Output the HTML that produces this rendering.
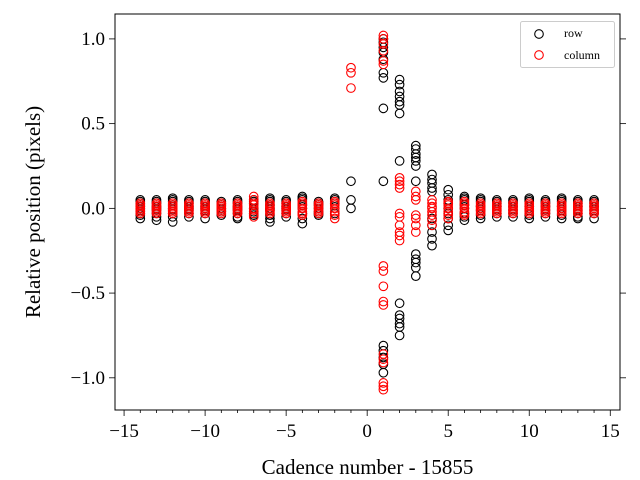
<!DOCTYPE html>
<html><head><meta charset="utf-8"><style>
html,body{margin:0;padding:0;background:#fff}
svg{display:block;font-family:"Liberation Serif",serif}
</style></head><body>
<svg id="chart" width="640" height="480">
<g id="plot"></g>
</svg>
<script>
const cadences=[-14,-13,-12,-11,-10,-9,-8,-7,-6,-5,-4,-3,-2,-1,1,2,3,4,5,6,7,8,9,10,11,12,13,14];
const rowValues=[
[0.05,0.04,0.03,0.02,0.01,0,-0.01,-0.02,-0.03,-0.04,-0.06],[0.05,0.04,0.03,0.01,0,-0.01,-0.03,-0.05,-0.07],[0.06,0.05,0.04,0.02,0,-0.01,-0.03,-0.05,-0.08],
[0.05,0.04,0.03,0.01,0,-0.01,-0.03,-0.05],[0.05,0.04,0.03,0.01,0,-0.01,-0.03,-0.06],[0.04,0.03,0.02,0,-0.01,-0.02,-0.04],
[0.05,0.04,0.03,0.01,0,-0.01,-0.03,-0.05,-0.06],[0.05,0.04,0.03,0,-0.02,-0.03,-0.04],[0.06,0.05,0.04,0.02,0,-0.01,-0.04,-0.06,-0.08],
[0.05,0.04,0.03,0.01,0,-0.01,-0.03,-0.05],[0.07,0.06,0.05,0.02,0,-0.03,-0.06,-0.09],[0.04,0.03,0.02,0,-0.02,-0.03,-0.04],
[0.06,0.05,0.03,-0.03],[0.16,0.05,0.0],
[1.0,0.98,0.95,0.92,0.88,0.8,0.77,0.59,0.16,-0.81,-0.84,-0.88,-0.92,-0.97],
[0.76,0.73,0.69,0.66,0.63,0.61,0.56,0.28,-0.56,-0.63,-0.65,-0.68,-0.7,-0.75],
[0.37,0.35,0.32,0.3,0.28,0.25,0.16,-0.27,-0.3,-0.32,-0.35,-0.4],
[0.2,0.17,0.15,0.12,0.1,-0.06,-0.1,-0.14,-0.18,-0.22],
[0.11,0.08,0.05,0.03,0,-0.03,-0.06,-0.1,-0.13],
[0.07,0.06,0.05,0.02,0,-0.03,-0.05,-0.07],[0.06,0.05,0.04,0.01,-0.01,-0.04,-0.06],[0.05,0.04,0.03,0.01,-0.01,-0.03,-0.05],
[0.05,0.04,0.03,0.01,-0.01,-0.03,-0.05],[0.06,0.05,0.04,0.01,-0.01,-0.04,-0.06],[0.05,0.04,0.03,0.01,-0.01,-0.03,-0.05],
[0.06,0.05,0.04,0.01,-0.01,-0.04,-0.06],[0.05,0.04,0.03,0.01,-0.01,-0.03,-0.05,-0.06],[0.05,0.04,0.03,0.01,-0.01,-0.03,-0.06]
];
const colValues=[
[0.03,0.02,0.01,0,-0.01,-0.02,-0.03],[0.03,0.02,0.01,0,-0.01,-0.02,-0.03],[0.03,0.02,0.01,0,-0.01,-0.02,-0.03],[0.03,0.02,0.01,0,-0.01,-0.02,-0.03],
[0.03,0.02,0.01,0,-0.01,-0.02,-0.03],[0.03,0.02,0.01,0,-0.01,-0.02,-0.03],[0.03,0.02,0.01,0,-0.01,-0.02,-0.03],[0.07,0.05,0.03,0.02,0,-0.01,-0.03,-0.05],
[0.03,0.02,0.01,0,-0.01,-0.02,-0.03],[0.03,0.02,0.01,0,-0.01,-0.02,-0.03],[0.04,0.03,0.02,0,-0.02,-0.03,-0.04],[0.03,0.02,0.01,0,-0.01,-0.02,-0.03],
[0.04,0.03,0.02,0,-0.02,-0.04,-0.06],[0.83,0.8,0.71],
[1.02,1.0,0.97,0.93,0.87,0.85,-0.34,-0.37,-0.46,-0.55,-0.57,-0.86,-0.89,-0.91,-1.03,-1.05,-1.07],
[0.18,0.16,0.14,0.12,-0.03,-0.05,-0.1,-0.14,-0.16,-0.19],
[0.1,0.07,0.05,-0.04,-0.06,-0.1,-0.14],
[0.05,0.03,0.01,0,-0.02,-0.04,-0.07,-0.1],
[0.04,0.03,0.02,0,-0.02,-0.04,-0.06],
[0.04,0.03,0.02,0,-0.02,-0.03,-0.04],[0.03,0.02,0.01,0,-0.01,-0.02,-0.03],[0.03,0.02,0.01,0,-0.01,-0.02,-0.03],[0.03,0.02,0.01,0,-0.01,-0.02,-0.03],
[0.03,0.02,0.01,0,-0.01,-0.02,-0.03],[0.03,0.02,0.01,0,-0.01,-0.02,-0.03],[0.03,0.02,0.01,0,-0.01,-0.02,-0.03],[0.03,0.02,0.01,0,-0.01,-0.02,-0.03],[0.03,0.02,0.01,0,-0.01,-0.02,-0.03]
];
const xTicks=[-15,-10,-5,0,5,10,15];
const xTickLabels=["\u221215","\u221210","\u22125","0","5","10","15"];
const yTicks=[-1,-0.5,0,0.5,1];
const yTickLabels=["\u22121.0","\u22120.5","0.0","0.5","1.0"];

const L=115,R=620,T=14,B=410;
const xMin=-15.56,xMax=15.6,yMin=-1.19,yMax=1.147;
const sx=v=>L+(v-xMin)/(xMax-xMin)*(R-L);
const sy=v=>B-(v-yMin)/(yMax-yMin)*(B-T);
const NS="http://www.w3.org/2000/svg";
const g=document.getElementById('plot');
function mk(t,a,p){const e=document.createElementNS(NS,t);for(const k in a)e.setAttribute(k,a[k]);(p||g).appendChild(e);return e;}

const rowG=mk('g',{});


const colG=mk('g',{});


cadences.forEach((c,i)=>{
  rowValues[i].forEach(v=>{
    const e=mk('circle',{cx:sx(c),cy:sy(v),r:4.3,fill:'none',stroke:'#000','stroke-width':1.1},rowG);
    
    
  });
});
cadences.forEach((c,i)=>{
  colValues[i].forEach(v=>{
    const e=mk('circle',{cx:sx(c),cy:sy(v),r:4.3,fill:'none',stroke:'#f00','stroke-width':1.1},colG);
    
    
  });
});

const frame=mk('rect',{x:L,y:T,width:R-L,height:B-T,fill:'none',stroke:'#000','stroke-width':1});



for(let m=-15;m<=15;m++){
  const maj=m%5===0;
  mk('line',{x1:sx(m),x2:sx(m),y1:B,y2:B+(maj?6:3),stroke:'#000','stroke-width':0.8});
}
xTicks.forEach((t,i)=>{
  const e=mk('text',{x:sx(t),y:B+27,'text-anchor':'middle','font-size':19});
  e.textContent=xTickLabels[i];
  
  
});
yTicks.forEach((t,i)=>{
  mk('line',{x1:L,x2:L-6,y1:sy(t),y2:sy(t),stroke:'#000','stroke-width':0.8});
  mk('line',{x1:R,x2:R+6,y1:sy(t),y2:sy(t),stroke:'#000','stroke-width':0.8});
  const e=mk('text',{x:L-10,y:sy(t)+6,'text-anchor':'end','font-size':19});
  e.textContent=yTickLabels[i];
  
  
});
const xt=mk('text',{x:(L+R)/2,y:474,'text-anchor':'middle','font-size':21});
xt.textContent='Cadence number - 15855';


const yt=mk('text',{x:40,y:(T+B)/2,'text-anchor':'middle','font-size':21,transform:`rotate(-90 40 ${(T+B)/2})`});
yt.textContent='Relative position (pixels)';



const lg=mk('g',{});


mk('rect',{x:520.5,y:21.5,width:94,height:46,rx:2,fill:'#fff',stroke:'#ccc','stroke-width':1},lg);
mk('circle',{cx:539,cy:34,r:4.3,fill:'none',stroke:'#000','stroke-width':1.1},lg);
mk('circle',{cx:539,cy:55,r:4.3,fill:'none',stroke:'#f00','stroke-width':1.1},lg);
const l1=mk('text',{x:564,y:37,'font-size':12},lg);l1.textContent='row';


const l2=mk('text',{x:564,y:59,'font-size':12},lg);l2.textContent='column';


</script>
</body></html>
